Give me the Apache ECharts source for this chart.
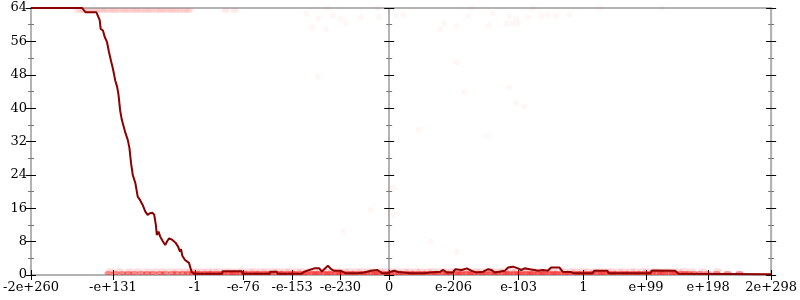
<!DOCTYPE html>
<html><head><meta charset="utf-8">
<script src="https://cdn.jsdelivr.net/npm/echarts@6/dist/echarts.min.js"></script>
<style>html,body{margin:0;padding:0;background:#fff}#c{width:800px;height:300px}</style>
</head><body><div id="c"></div>
<script>
// x positions are in "bit-space" units of the float ordering axis
const tickValues = [-361, -278.5, -195.8, -147.2, -97.8, -49.2, 0, 64.8, 130.5, 195.8, 258.8, 321.5, 385];
const tickLabels = ['-2e+260', '-e+131', '-1', '-e-76', '-e-153', '-e-230', '0', 'e-206', 'e-103', '1', 'e+99', 'e+198', '2e+298'];

const lineX = [-361,-309.5,-306.2,-295.2,-291.8,-290.8,-288.5,-286.8,-284.5,-282.5,-280.2,-278.5,-276.2,-274.2,-272.8,-271.2,-269.5,-267.5,-265.8,-263.5,-261.8,-260.2,-258.5,-255.8,-253.5,-251.2,-250.2,-248.5,-245.8,-243.5,-241.2,-238.5,-236.8,-235.2,-234.2,-232.5,-230.8,-228.5,-225.8,-223.5,-221.8,-218.5,-216.8,-215.2,-212.8,-210.8,-209.8,-208.5,-205.8,-201.8,-200.2,-199.2,-196.8,-168.5,-167.8,-148.5,-147.5,-120.5,-119.5,-113.5,-112.5,-88.5,-85.5,-80.5,-78.5,-75.5,-70.5,-67.8,-65.5,-61.8,-58.5,-55.5,-48.5,-43.5,-31.8,-25.5,-18.5,-11.8,-6.8,-1.8,1.5,4.8,9.5,14.5,21.5,34.5,41.5,51.5,54.5,58.2,64.5,66.5,73.2,78.2,83.2,88.2,94.8,99.8,103.2,106.5,116.5,119.8,124.8,129.8,133.2,136.5,141.5,146.5,149.8,154.8,156.5,159.8,163.2,171.5,174.8,183.2,186.5,204.8,206.5,219.8,221.5,263.2,264.8,288.2,291.5,385];
const lineY = [64,64,63,63,61.1,59,58.6,57.1,55.9,53.5,51.1,49.5,46.7,45.1,43.1,39.5,37.2,35.5,34.0,32.4,30.4,26.8,24.0,22.0,18.8,18.0,18.4,16.8,15.2,14.4,14.8,14.9,14.4,12.0,9.6,10.4,9.2,8.2,7.2,8.2,8.8,8.4,8.8,7.7,6.8,5.6,6.2,4.6,3.6,2.9,2.8,0.8,0.3,0.3,0.9,0.9,0.3,0.3,0.8,0.8,0.3,0.3,0.8,1.2,0.8,1.6,1.6,0.8,1.4,2.2,1.4,1.0,1.0,0.4,0.4,0.6,1.0,1.2,0.4,0.4,0.8,1.0,0.7,0.6,0.4,0.4,0.6,0.8,1.2,0.6,0.6,1.4,1.2,1.6,1.0,0.6,0.8,1.4,1.2,0.6,1.0,1.8,2.0,1.6,1.2,1.6,1.4,1.2,1.0,1.2,1.6,1.0,1.8,1.8,0.8,0.7,0.4,0.4,1.0,1.0,0.4,0.4,1.1,1.0,0.3,0.2];

// raw samples sitting at 64 (top band)
const topBandX = [-314,-311,-308,-306,-303,-300,-297,-295,-292,-289,-287,-284,-281,-278,-276,-273,-270,-267,-265,-262,-259,-256,-254,-251,-248,-245,-243,-240,-237,-234,-231,-229,-226,-223,-220,-218,-215,-212,-209,-206,-203,-201,-165,-156];
// raw samples at 0
const zeroBandX = [-283,-276,-269,-263,-257,-250,-244,-238,-231,-226,-219,-214,-208,-203,-198,-194,-191,-186,-182,-179,-174,-170,-167,-162,-158,-155,-150,-146,-143,-138,-134,-131,-126,-122,-119,-114,-110,-107,-102,-98,-95,-90,-86,-83,-78,-74,-71,-66,-62,-59,-54,-50,-47,-42,-38,-35,-30,-26,-23,-18,-14,-11,-6,-2,1,6,10,13,18,22,25,30,34,37,42,46,49,54,58,61,66,70,73,78,82,85,90,94,97,102,106,109,114,118,121,126,130,133,138,142,145,150,154,157,162,166,169,174,178,181,186,190,193,198,202,205,210,214,217,222,226,229,234,238,241,246,250,253,258,262,265,270,274,277,282,286,289,294,298,302,307,313,321,330,341,353];
// raw samples at 1
const oneBandX = [-281,-272,-262,-253,-244,-236,-228,-220,-213,-206,-200,-195,-189,-183,-177,-172,-165,-160,-153,-148,-141,-136,-129,-124,-117,-112,-105,-100,-93,-88,-81,-76,-69,-64,-57,-52,-45,-40,-33,-28,-21,-16,-9,-4,3,8,15,20,27,32,39,44,51,56,63,68,75,80,87,92,99,104,111,116,123,128,135,140,147,152,159,164,171,176,183,188,195,200,207,212,219,224,231,236,243,248,255,260,267,272,279,284,291,297,305,316,331];
// stray samples
const strayX = [-83.5,-71.2,-77.5,-64.2,-56.8,-49.5,-43.5,-28.5,-10.2,6.5,14.2,51.5,55.5,68.2,79.8,104.2,100.5,118.2,120.8,124.2,128.2,129.8,139.8,153.2,159.8,168.2,181.5,213.2,274.8,-61.8,-11.8,83.2,144.8,-71.8,68.2,75.5,120.8,128.2,136.5,29.8,97.5,4.2,-18.5,3.8,-45.8,42.2,68.2];
const strayY = [62.6,61.5,59.4,58.9,62.3,61.3,60.3,61.8,61.9,62.1,62.3,58.9,60.3,59.7,62.1,62.7,59.7,60.2,62.1,60.3,61.3,60.3,61.8,62.1,62.3,62.1,62.3,64,64,64,64,64,64,47.5,51.0,43.8,45.0,41.2,40.3,34.9,33.3,21.0,15.6,14.4,10.4,8.0,5.6];

const FONT = 'DejaVu Serif';
const GREY = '#b3b3b3';
const X_MIN = tickValues[0], X_MAX = tickValues[tickValues.length - 1];

function xAx(inside) {
  return {
    type: 'value', min: X_MIN, max: X_MAX, position: 'bottom',
    axisLine: { show: !inside, onZero: false, lineStyle: { color: GREY, width: 2 } },
    splitLine: { show: false },
    axisTick: { show: true, inside: inside, length: 5, customValues: tickValues, lineStyle: { color: '#000', width: 1 } },
    axisLabel: inside ? { show: false } : {
      show: true, customValues: tickValues, margin: 6,
      fontFamily: FONT, fontSize: 13, color: '#000',
      formatter: v => { const i = tickValues.indexOf(v); return i >= 0 ? tickLabels[i] : ''; }
    }
  };
}
function yAx(pos, inside, labels, onZero) {
  return {
    type: 'value', min: 0, max: 64, interval: 8, position: pos,
    axisLine: { show: !inside, onZero: onZero, onZeroAxisIndex: 0, lineStyle: { color: GREY, width: 2 } },
    splitLine: { show: false },
    axisTick: { show: true, inside: inside, length: 5, lineStyle: { color: '#000', width: 1 } },
    minorTick: { show: true, splitNumber: 2, length: 3, lineStyle: { color: '#777', width: 1 } },
    axisLabel: labels ? { show: true, margin: 4, fontFamily: FONT, fontSize: 13, color: '#000' } : { show: false }
  };
}

const chart = echarts.init(document.getElementById('c'), null, { renderer: 'canvas' });
chart.setOption({
  animation: false,
  grid: { left: 27, right: 26, top: 8, bottom: 25, show: true, borderColor: GREY, borderWidth: 2 },
  xAxis: [xAx(false), xAx(true)],
  yAxis: [
    yAx('left', false, true, false), yAx('left', true, false, false),
    yAx('left', false, false, true), yAx('left', true, false, true),
    yAx('right', false, false, false), yAx('right', true, false, false)
  ],
  series: [
    { type: 'scatter', symbolSize: 6, silent: true, clip: false,
      itemStyle: { color: 'rgba(255,0,0,0.045)' },
      data: strayX.map((x, i) => [x, strayY[i]]) },
    { type: 'scatter', symbolSize: [8, 5], symbolOffset: [0, 2.5], silent: true, clip: false,
      itemStyle: { color: 'rgba(255,0,0,0.1)' },
      data: topBandX.map(x => [x, 64]) },
    { type: 'scatter', symbolSize: [9, 5], silent: true, clip: false,
      itemStyle: { color: 'rgba(255,0,0,0.17)' },
      data: oneBandX.map(x => [x, 1]) },
    { type: 'scatter', symbolSize: [8, 4], symbolOffset: [0, -2], silent: true, clip: false,
      itemStyle: { color: 'rgba(255,0,0,0.55)' },
      data: zeroBandX.map(x => [x, 0]) },
    { type: 'line', showSymbol: false, clip: false, silent: true, z: 5,
      lineStyle: { color: '#8b0000', width: 2 },
      data: lineX.map((x, i) => [x, lineY[i]]) }
  ]
});
</script></body></html>
